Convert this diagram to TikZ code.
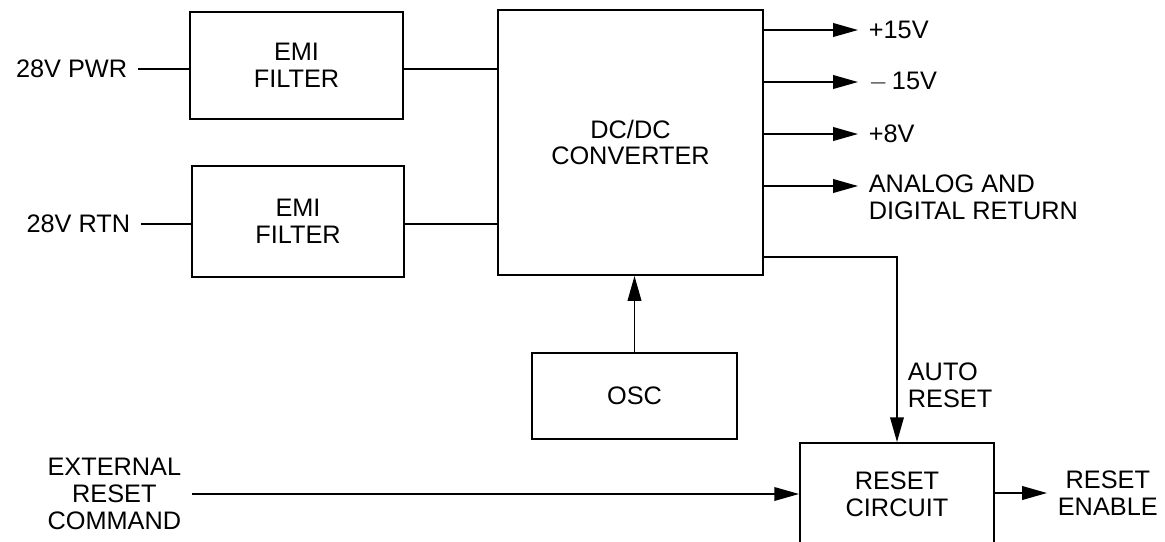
\documentclass[tikz,border=0pt]{standalone}
\usepackage{fontspec}
\setmainfont{Liberation Sans}
\usetikzlibrary{positioning, arrows.meta, calc}

\begin{document}
\begin{tikzpicture}[
        x=0.025cm, y=-0.025cm,
        line width=1.2pt,
        font=\fontsize{18}{19}\selectfont,
        box/.style={draw, rectangle, inner sep=0pt, align=center, line width=1.3pt},
        lbl/.style={inner xsep=0.25cm, inner ysep=0pt},
        arrow/.style={-{Triangle[length=0.62cm, width=0.34cm]}}
    ]
    \useasboundingbox (0,0) rectangle (1165,541);

    % --- blocks ---
    \node[box, minimum width=5.325cm, minimum height=2.675cm] (emi1) at (296.5,65.5) {EMI\\FILTER};
    \node[box, minimum width=5.3cm, minimum height=2.775cm] (emi2) at (298,221.5) {EMI\\FILTER};
    \node[box, minimum width=6.625cm, minimum height=6.625cm] (conv) at (630.5,142.5) {DC/DC\\CONVERTER};
    \node[box, minimum width=5.125cm, minimum height=2.15cm] (osc) at (634.5,396) {OSC};
    \node[box, minimum width=4.85cm, minimum height=2.55cm] (reset) at (897,494) {RESET\\CIRCUIT};

    % --- inputs ---
    \node[lbl, anchor=east] (pwr) at (138,69) {28V PWR};
    \node[lbl, anchor=east] (rtn) at (141,224) {28V RTN};
    \node[lbl, anchor=east, align=center] (ext) at (192,494) {EXTERNAL\\RESET\\COMMAND};
    \draw (pwr.east) -- (pwr.east -| emi1.west);
    \draw (rtn.east) -- (rtn.east -| emi2.west);
    \draw (pwr.east -| emi1.east) -- (pwr.east -| conv.west);
    \draw (rtn.east -| emi2.east) -- (rtn.east -| conv.west);
    \draw[arrow] (ext.east) -- (ext.east -| reset.west);
    \draw[arrow] (osc.north) -- (osc.north |- conv.south);

    % --- outputs ---
    \node[lbl, anchor=west] (p15) at (858,30) {+15V};
    \node[lbl, anchor=west] (m15) at (858,82) {$-$\,15V};
    \node[lbl, anchor=west] (p8) at (858,134) {+8V};
    \node[lbl, anchor=west, align=left] (ana) at (858,197) {ANALOG AND\\DIGITAL RETURN};
    \draw[arrow] (conv.east |- p15) -- (p15);
    \draw[arrow] (conv.east |- m15) -- (m15);
    \draw[arrow] (conv.east |- p8) -- (p8);
    \draw[arrow] ([yshift=0.275cm]ana.west -| conv.east) -- ([yshift=0.275cm]ana.west);

    % --- reset path ---
    \coordinate (ar) at (897,257);
    \node[lbl, anchor=west, align=left] (autolbl) at (897,385) {AUTO\\RESET};
    \draw[arrow] (conv.east |- ar) -- (ar) -- (reset.north);
    \node[lbl, anchor=west, align=center] (ren) at (1047,493) {RESET\\ENABLE};
    \draw[arrow] (reset.east |- ren) -- (ren);
\end{tikzpicture}
\end{document}
